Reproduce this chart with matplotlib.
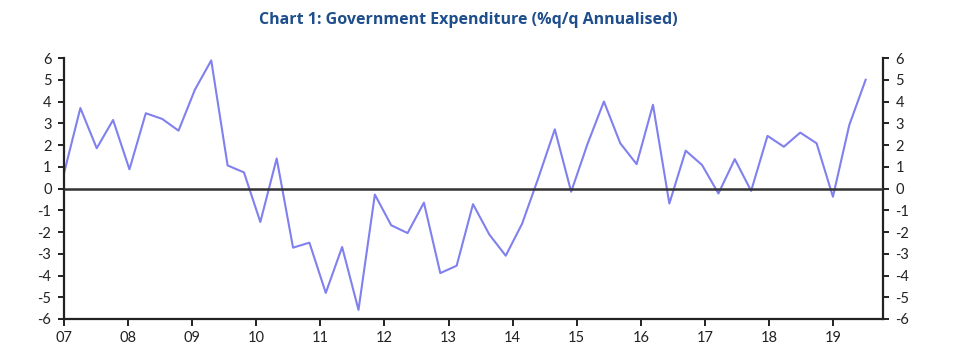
import numpy as np
import matplotlib
matplotlib.use("Agg")
import matplotlib.pyplot as plt

# quarterly government expenditure, % q/q annualised (2007Q1 onward)
values = [0.7, 3.7, 1.85, 3.15, 0.88, 3.46, 3.2, 2.66, 4.54, 5.89,
          1.06, 0.74, -1.54, 1.38, -2.72, -2.49, -4.8, -2.69, -5.58, -0.28,
          -1.69, -2.05, -0.65, -3.89, -3.55, -0.72, -2.12, -3.09, -1.62, 0.5,
          2.72, -0.15, 2.05, 4.0, 2.08, 1.12, 3.85, -0.69, 1.74, 1.08,
          -0.23, 1.35, -0.11, 2.42, 1.92, 2.57, 2.08, -0.38, 2.92, 5.0]
year_labels = ["07", "08", "09", "10", "11", "12", "13", "14", "15", "16", "17", "18", "19"]
y_ticks = list(range(-6, 7))

plt.rcParams['font.family'] = ['Lato', 'DejaVu Sans']

fig = plt.figure(figsize=(9.59, 3.57), dpi=100)
ax = fig.add_axes([64/959, 38/357, (883-64)/959, (319-58)/357])

x = np.arange(len(values))
ax.plot(x, values, color='#8080ee', lw=1.5)
ax.axhline(0, color='#333333', lw=1.8, zorder=3)

ax.set_ylim(-6, 6)
ax.set_xlim(0, 50.06)
ax.set_yticks(y_ticks)
ax.set_yticklabels([str(v) for v in y_ticks])
step = 50.06 / 12.78
ax.set_xticks(np.arange(len(year_labels)) * step)
ax.set_xticklabels(year_labels)

ax.spines['top'].set_visible(False)
for s in ['left', 'right', 'bottom']:
    ax.spines[s].set_linewidth(1.6)
    ax.spines[s].set_color('#222222')
ax.tick_params(axis='both', direction='out', length=4, width=1.4, color='#222222',
               labelsize=10.5, labelcolor='#222222', pad=5)
ax.tick_params(axis='y', left=True, right=True, labelleft=True, labelright=True)
ax.tick_params(axis='x', length=5, pad=4)

fig.text(0.488, 0.945, "Chart 1: Government Expenditure (%q/q Annualised)",
         ha='center', va='center', fontsize=11.5, fontweight='bold', color='#1f4e8c',
         family=['Open Sans', 'DejaVu Sans'])

fig.savefig("out.png", dpi=100)
